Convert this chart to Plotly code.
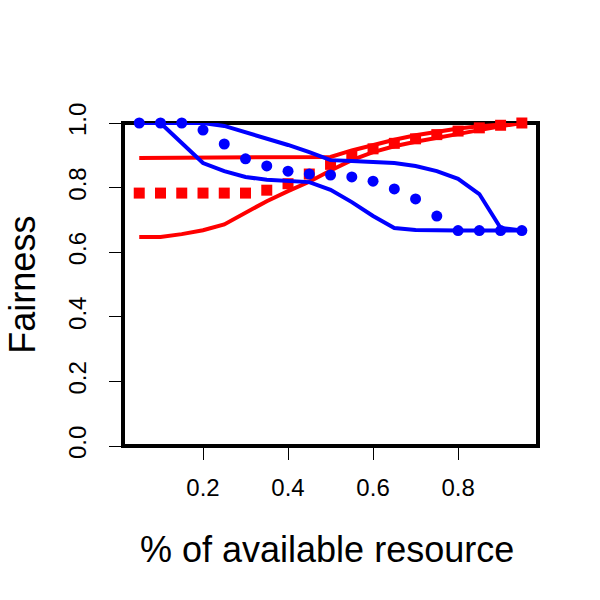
import plotly.graph_objects as go

x_vals = [0.05, 0.10, 0.15, 0.20, 0.25, 0.30, 0.35, 0.40, 0.45, 0.50,
          0.55, 0.60, 0.65, 0.70, 0.75, 0.80, 0.85, 0.90, 0.95]

red_upper = [0.892, 0.892, 0.892, 0.892, 0.892, 0.892, 0.892, 0.892, 0.893, 0.895,
             0.915, 0.933, 0.948, 0.962, 0.973, 0.983, 0.990, 0.996, 1.000]
red_lower = [0.647, 0.647, 0.656, 0.668, 0.686, 0.722, 0.758, 0.789, 0.818, 0.853,
             0.885, 0.910, 0.928, 0.942, 0.955, 0.967, 0.978, 0.990, 1.000]
red_squares = [0.783, 0.783, 0.783, 0.783, 0.783, 0.783, 0.792, 0.812, 0.842, 0.872,
               0.897, 0.920, 0.937, 0.951, 0.964, 0.975, 0.985, 0.993, 1.000]

blue_upper = [1.000, 1.000, 1.000, 1.000, 0.991, 0.972, 0.950, 0.932, 0.910, 0.885,
              0.882, 0.879, 0.876, 0.867, 0.851, 0.827, 0.780, 0.675, 0.667]
blue_lower = [1.000, 1.000, 0.938, 0.876, 0.851, 0.833, 0.824, 0.820, 0.817, 0.793,
              0.755, 0.712, 0.675, 0.669, 0.667, 0.667, 0.667, 0.667, 0.667]
blue_dots = [1.000, 1.000, 1.000, 0.978, 0.935, 0.889, 0.867, 0.851, 0.842, 0.839,
             0.833, 0.820, 0.796, 0.765, 0.712, 0.667, 0.667, 0.667, 0.667]

x_ticks = [0.2, 0.4, 0.6, 0.8]
y_ticks = [0.0, 0.2, 0.4, 0.6, 0.8, 1.0]
y_ticktext = ["0.0", "0.2", "0.4", "0.6", "0.8", "1.0"]

RED = "#FF0000"
BLUE = "#0000FF"
FONT = "Liberation Sans, Arial, Helvetica, sans-serif"

fig = go.Figure()
fig.add_trace(go.Scatter(x=x_vals, y=red_upper, mode="lines",
                         line=dict(color=RED, width=4), cliponaxis=False))
fig.add_trace(go.Scatter(x=x_vals, y=red_lower, mode="lines",
                         line=dict(color=RED, width=4), cliponaxis=False))
fig.add_trace(go.Scatter(x=x_vals, y=red_squares, mode="markers",
                         marker=dict(symbol="square", color=RED, size=11),
                         cliponaxis=False))
fig.add_trace(go.Scatter(x=x_vals, y=blue_upper, mode="lines",
                         line=dict(color=BLUE, width=4), cliponaxis=False))
fig.add_trace(go.Scatter(x=x_vals, y=blue_lower, mode="lines",
                         line=dict(color=BLUE, width=4), cliponaxis=False))
fig.add_trace(go.Scatter(x=x_vals, y=blue_dots, mode="markers",
                         marker=dict(symbol="circle", color=BLUE, size=11),
                         cliponaxis=False))

fig.add_shape(type="rect", xref="paper", yref="paper", x0=0, x1=1, y0=0, y1=1,
              line=dict(color="black", width=4), layer="below")

fig.update_layout(
    width=600, height=600, autosize=False,
    margin=dict(l=123, r=62, t=123, b=154, pad=0),
    paper_bgcolor="white", plot_bgcolor="white",
    showlegend=False,
    font=dict(family=FONT, color="black"),
    xaxis=dict(range=[0.0118, 0.988], tickvals=x_ticks,
               ticktext=["0.2", "0.4", "0.6", "0.8"],
               ticks="outside", ticklen=13, tickwidth=1, tickcolor="black",
               showgrid=False, zeroline=False, showline=False,
               tickfont=dict(size=24, family=FONT, color="black"),
               ticklabelstandoff=7),
    yaxis=dict(range=[0, 1], tickvals=y_ticks, ticktext=y_ticktext,
               ticks="outside", ticklen=13, tickwidth=1, tickcolor="black",
               showgrid=False, zeroline=False, showline=False,
               tickangle=-90,
               tickfont=dict(size=24, family=FONT, color="black"),
               ticklabelstandoff=13),
    annotations=[
        dict(text="% of available resource", xref="paper", yref="paper",
             x=0.492, y=-0.319, xanchor="center", yanchor="middle",
             showarrow=False, font=dict(size=36, family=FONT, color="black")),
        dict(text="Fairness", xref="paper", yref="paper",
             x=-0.243, y=0.5, xanchor="center", yanchor="middle",
             textangle=-90, showarrow=False,
             font=dict(size=36, family=FONT, color="black")),
    ],
)

fig.write_html("out.html")
